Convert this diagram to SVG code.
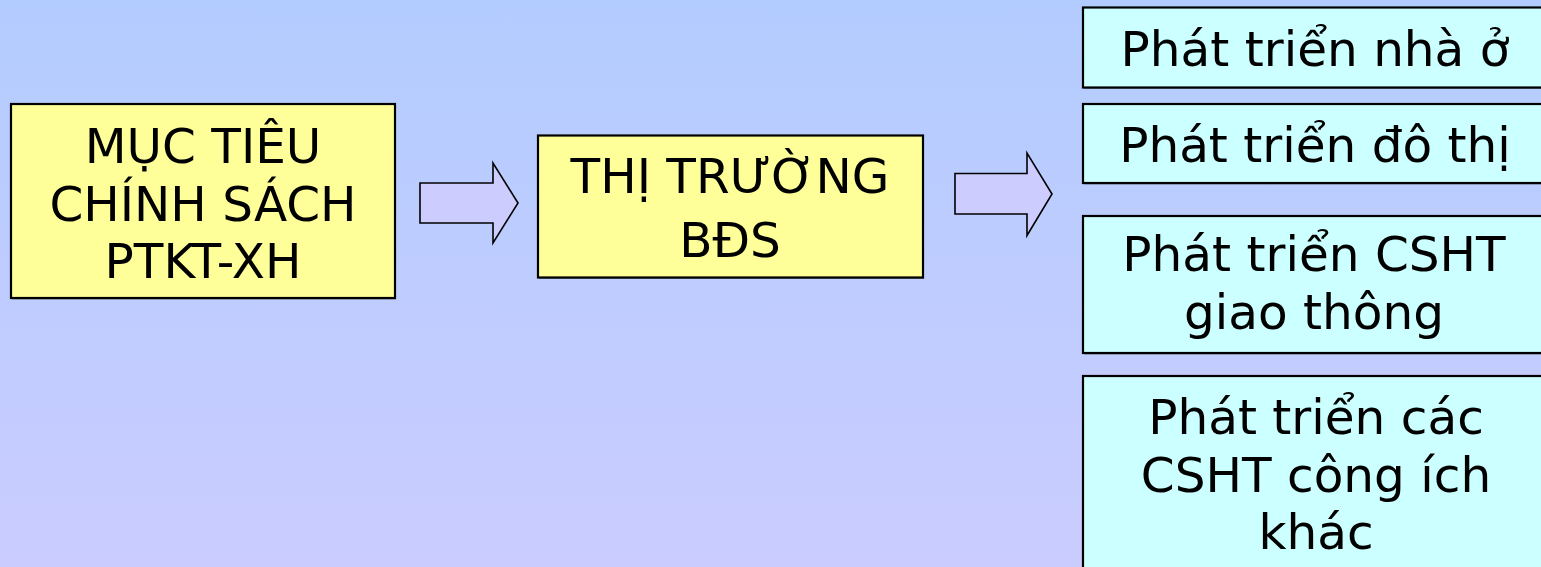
<svg xmlns="http://www.w3.org/2000/svg" width="1541" height="567" viewBox="0 0 1541 567">
  <defs>
    <linearGradient id="bg" x1="0" y1="0" x2="0" y2="1">
      <stop offset="0" stop-color="#B3CCFF"/>
      <stop offset="1" stop-color="#CACCFF"/>
    </linearGradient>
    <style>
      .shadow { fill: #5a6a6a; opacity: 0.7; }
      .yellow { fill: #FFFF99; stroke: #000000; stroke-width: 2.2; }
      .cyan { fill: #CCFFFF; stroke: #000000; stroke-width: 2.2; }
      .arrow { fill: #CCCCFF; stroke: #000000; stroke-width: 1.6; stroke-linejoin: miter; }
      .label { font-family: "DejaVu Sans", Verdana, sans-serif; font-size: 48.5px; fill: #000000; text-anchor: middle; }
    </style>
  </defs>
  <rect x="0" y="0" width="1541" height="567" fill="url(#bg)"/>

  <g id="node-muc-tieu">
    <rect class="shadow" x="12" y="105.5" width="384" height="194"/>
    <rect class="yellow" x="11" y="104" width="384" height="194"/>
    <text class="label" x="203" y="163">MỤC TIÊU</text>
    <text class="label" x="203" y="220.5">CHÍNH SÁCH</text>
    <text class="label" x="203" y="278">PTKT-XH</text>
  </g>

  <g id="node-thi-truong">
    <rect class="shadow" x="539" y="137" width="385" height="142"/>
    <rect class="yellow" x="538" y="135.5" width="385" height="142"/>
    <text class="label" x="730" y="193">THỊ TRƯỜNG</text>
    <text class="label" x="730" y="256.5">BĐS</text>
  </g>

  <g id="node-nha-o">
    <rect class="shadow" x="1084" y="9" width="462" height="80"/>
    <rect class="cyan" x="1083" y="7.5" width="462" height="80"/>
    <text class="label" x="1315" y="65.5">Phát triển nhà ở</text>
  </g>

  <g id="node-do-thi">
    <rect class="shadow" x="1084" y="105.5" width="462" height="79"/>
    <rect class="cyan" x="1083" y="104" width="462" height="79"/>
    <text class="label" x="1315" y="162">Phát triển đô thị</text>
  </g>

  <g id="node-giao-thong">
    <rect class="shadow" x="1084" y="217.5" width="462" height="137"/>
    <rect class="cyan" x="1083" y="216" width="462" height="137"/>
    <text class="label" x="1314" y="271">Phát triển CSHT</text>
    <text class="label" x="1314" y="328.5">giao thông</text>
  </g>

  <g id="node-cong-ich">
    <rect class="shadow" x="1084" y="377.5" width="462" height="200"/>
    <rect class="cyan" x="1083" y="376" width="462" height="200"/>
    <text class="label" x="1316" y="433.5">Phát triển các</text>
    <text class="label" x="1316" y="491.5">CSHT công ích</text>
    <text class="label" x="1316" y="549">khác</text>
  </g>

  <g id="connectors">
    <path class="arrow" d="M420,183 L493,183 L493,163 L518,203 L493,243 L493,223 L420,223 Z"/>
    <path class="arrow" d="M955,173.5 L1027,173.5 L1027,153 L1052,194 L1027,235.5 L1027,214 L955,214 Z"/>
  </g>
</svg>
